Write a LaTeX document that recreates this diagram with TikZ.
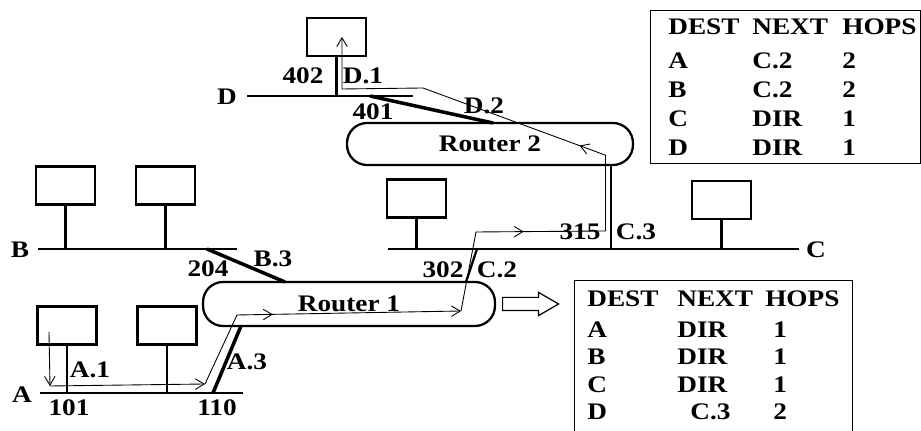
\documentclass[tikz,border=0pt]{standalone}
\usepackage{fontspec}
\setmainfont{Liberation Serif}
\newfontfamily\lblfont{Liberation Serif}[FakeStretch=1.15]
\usetikzlibrary{arrows.meta, shapes.arrows, decorations.markings}

\begin{document}
\begin{tikzpicture}[
    x=0.02cm, y=-0.02cm,
    >={Straight Barb[length=5pt,width=6pt]},
    host/.style={draw, line width=1.3pt, minimum width=1.18cm, minimum height=0.76cm, inner sep=0pt},
    router/.style={draw, line width=1.3pt, rounded corners=0.4cm, inner sep=0pt,
      font=\lblfont\bfseries\fontsize{13.5}{15}\selectfont},
    net/.style={line width=1.3pt},
    link/.style={line width=2pt},
    lbl/.style={inner sep=0pt, font=\lblfont\bfseries\fontsize{13.5}{15}\selectfont},
    pkt/.style={line width=0.5pt, line cap=round, line join=round},
    midarrow/.style={postaction={decorate},
      decoration={markings, mark=at position #1 with {\arrow{>}}}},
    tblbox/.style={draw, line width=0.7pt, inner sep=0pt, anchor=north west},
    tbltext/.style={inner sep=0pt, anchor=north west}
  ]
  \useasboundingbox (0,0) rectangle (921,431);
  \clip (0,0) rectangle (921,431);

  % routers
  \node[router, minimum width=5.84cm, minimum height=0.88cm] (R1) at (349,304) {Router 1};
  \node[router, minimum width=5.72cm, minimum height=0.84cm] (R2) at (490,144) {Router 2};

  % networks
  \coordinate (Dw) at (247,96);  \coordinate (De) at (413,96);
  \coordinate (Bw) at (38,249);  \coordinate (Be) at (237,249);
  \coordinate (Aw) at (40,393);  \coordinate (Ae) at (243,393);
  \coordinate (Cw) at (388,249); \coordinate (Ce) at (799,249);
  \draw[net] (Dw) -- (De);
  \draw[net] (Bw) -- (Be);
  \draw[net] (Aw) -- (Ae);
  \draw[net] (Cw) -- (Ce);

  \node[lbl] (netD) at (227,97)  {D};
  \node[lbl] (netB) at (20,250)  {B};
  \node[lbl] (netA) at (22,395)  {A};
  \node[lbl] (netC) at (816,250) {C};

  % hosts
  \node[host] (hD)  at (336.5,37)  {};
  \node[host] (hB1) at (65.5,185.5)  {};
  \node[host] (hB2) at (165.5,185.5) {};
  \node[host] (hA1) at (67,325.5)  {};
  \node[host] (hA2) at (167,325.5) {};
  \node[host] (hC1) at (416.5,198.5) {};
  \node[host] (hC2) at (721.5,200)   {};

  \draw[net] (hD)  -- (hD |- Dw);
  \draw[net] (hB1) -- (hB1 |- Bw);
  \draw[net] (hB2) -- (hB2 |- Bw);
  \draw[net] (hA1) -- (hA1 |- Aw);
  \draw[net] (hA2) -- (hA2 |- Aw);
  \draw[net] (hC1) -- (hC1 |- Cw);
  \draw[net] (hC2) -- (hC2 |- Cw);

  % router links
  \coordinate (d401) at (370,96);  \coordinate (r2d) at (493,123);
  \coordinate (b204) at (207,249); \coordinate (r1b) at (285,282);
  \coordinate (a110) at (213,393); \coordinate (r1a) at (241,326);
  \coordinate (c302) at (477,249); \coordinate (r1c) at (466,282);
  \coordinate (c315) at (611,249); \coordinate (r2c) at (611,165);
  \draw[link] (d401) -- (r2d);
  \draw[link] (b204) -- (r1b);
  \draw[link] (a110) -- (r1a);
  \draw[net]  (c302) -- (r1c);
  \draw[net]  (c315) -- (r2c);

  % interface labels
  \node[lbl] (l402) at (303,76)  {402};
  \node[lbl] (lD1)  at (363,76)  {D.1};
  \node[lbl] (l401) at (373,112) {401};
  \node[lbl] (lD2)  at (484,106) {D.2};
  \node[lbl] (l204) at (208,269) {204};
  \node[lbl] (lB3)  at (273,259) {B.3};
  \node[lbl] (lA1)  at (90,370)  {A.1};
  \node[lbl] (l101) at (69,408)  {101};
  \node[lbl] (l110) at (217,408) {110};
  \node[lbl] (lA3)  at (247,362) {A.3};
  \node[lbl] (l302) at (443,270) {302};
  \node[lbl] (lC2)  at (497,270) {C.2};
  \node[lbl] (l315) at (580,232) {315};
  \node[lbl] (lC3)  at (636,232) {C.3};

  % packet route A -> D
  \coordinate (p1) at (49,332);  \coordinate (p2) at (50,386);
  \coordinate (p3) at (205,384); \coordinate (p4) at (237,315);
  \coordinate (p5) at (461,311); \coordinate (p6) at (476,232);
  \coordinate (p7) at (605,231); \coordinate (p8) at (605,155);
  \coordinate (p9) at (423,88);  \coordinate (p10) at (342,89);
  \coordinate (p11) at (342,37);
  \draw[pkt,->] (p1) -- (p2);
  \draw[pkt,->] (p2) -- (p3);
  \draw[pkt] (p3) -- (p4);
  \draw[pkt,->,midarrow=0.16] (p4) -- (p5);
  \draw[pkt] (p5) -- (p6);
  \draw[pkt,midarrow=0.37] (p6) -- (p7);
  \draw[pkt] (p7) -- (p8);
  \draw[pkt,midarrow=0.14] (p8) -- (p9);
  \draw[pkt,->] (p9) -- (p10) -- (p11);

  % routing tables
  \node[draw, line width=0.7pt, single arrow, single arrow head extend=0.1cm,
    single arrow tip angle=60, inner sep=0.12cm, minimum height=1.12cm,
    anchor=tail] (toTab) at (502,304) {};

  \node[tblbox, minimum width=5.4cm, minimum height=3.06cm] (tabR2) at (650,10) {};
  \node[tbltext] (rowsR2) at (668,14) {\lblfont\bfseries\fontsize{13.5}{16.5}\selectfont
    \begin{tabular}{@{}p{1.68cm}@{}p{1.8cm}@{}l@{}}
      DEST & NEXT & HOPS\\[0.1cm]
      A & C.2 & 2\\
      B & C.2 & 2\\
      C & DIR & 1\\
      D & DIR & 1
    \end{tabular}};

  \node[tblbox, minimum width=5.56cm, minimum height=3.2cm] (tabR1) at (574,280) {};
  \node[tbltext] (rowsR1) at (587,287) {\lblfont\bfseries\fontsize{13.5}{15.5}\selectfont
    \begin{tabular}{@{}p{1.8cm}@{}p{1.76cm}@{}l@{}}
      DEST & NEXT & HOPS\\[0.08cm]
      A & DIR & \hspace{0.16cm}1\\
      B & DIR & \hspace{0.16cm}1\\
      C & DIR & \hspace{0.16cm}1\\
      D & \hspace{0.26cm}C.3 & \hspace{0.16cm}2
    \end{tabular}};

\end{tikzpicture}
\end{document}
